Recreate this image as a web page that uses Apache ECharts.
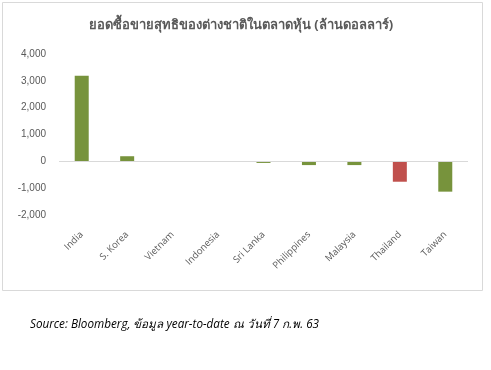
<!DOCTYPE html>
<html><head><meta charset="utf-8">
<script src="https://cdn.jsdelivr.net/npm/echarts@6/dist/echarts.min.js"></script>
<style>html,body{margin:0;padding:0;background:#fff}#c{width:491px;height:370px}</style>
</head><body><div id="c"></div>
<script>
const categories = ['India','S. Korea','Vietnam','Indonesia','Sri Lanka','Philippines','Malaysia','Thailand','Taiwan'];
const values = [3190, 190, 0, 0, -60, -140, -140, -760, -1130];
const highlightCategory = 'Thailand';
const yTicks = [-2000, 4000, 1000];
const titleText = 'ยอดซื้อขายสุทธิของต่างชาติในตลาดหุ้น (ล้านดอลลาร์)';
const footerText = 'Source: Bloomberg, ข้อมูล year-to-date ณ วันที่ 7 ก.พ. 63';

const chart = echarts.init(document.getElementById('c'));
chart.setOption({
  animation:false,
  backgroundColor:'#fff',
  graphic:[
    {type:'rect',shape:{x:2.5,y:2.5,width:480,height:288},style:{fill:'none',stroke:'#d9d9d9',lineWidth:1},z:-1},
    {type:'text',x:241,y:25,style:{text:titleText,align:'center',verticalAlign:'middle',font:'bold 13px "Noto Sans", "DejaVu Sans", sans-serif',fill:'#595959'}},
    {type:'text',x:30,y:325,style:{text:footerText,verticalAlign:'middle',font:'italic 11.7px "Open Sans", "Noto Sans", sans-serif',fill:'#000'}}
  ],
  grid:{left:59,right:23,top:54,bottom:155,containLabel:false},
  xAxis:{type:'category',data:categories,
    axisLine:{show:false},axisTick:{show:false},
    axisLabel:{rotate:45,interval:0,margin:18,color:'#595959',fontSize:9.5,fontFamily:'Open Sans, sans-serif'}},
  yAxis:{type:'value',min:yTicks[0],max:yTicks[1],interval:yTicks[2],
    splitLine:{show:false},axisLine:{show:false},axisTick:{show:false},
    axisLabel:{color:'#595959',fontSize:10,margin:13,fontFamily:'Liberation Sans, Arial, sans-serif',
      formatter:v=>v.toLocaleString('en-US')}},
  series:[{type:'bar',barWidth:14,
    data:values.map((v,i)=>({value:v,itemStyle:{color:categories[i]===highlightCategory?'#c0504d':'#77933c'}})),
    markLine:{silent:true,symbol:'none',label:{show:false},lineStyle:{color:'#d9d9d9',type:'solid',width:1},data:[{yAxis:0}]}
  }]
});
</script></body></html>
